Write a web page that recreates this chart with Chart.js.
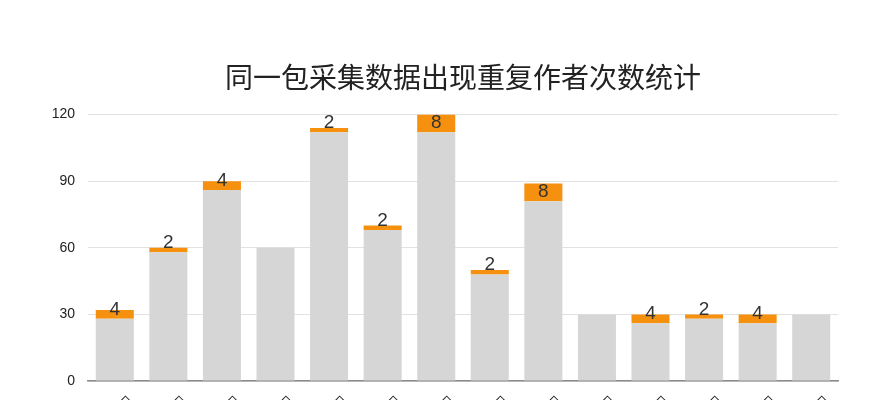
<!DOCTYPE html>
<html>
<head>
<meta charset="utf-8">
<script src="https://cdn.jsdelivr.net/npm/chart.js@4"></script>
<style>
  html, body { margin: 0; padding: 0; background: #fff; overflow: hidden; }
  #wrap { width: 889px; height: 400px; }
</style>
</head>
<body>
<div id="wrap"><canvas id="chart"></canvas></div>
<script>
// Category labels are cut off at the bottom edge in the reference.
const categories = ['◇', '◇', '◇', '◇', '◇', '◇', '◇', '◇', '◇', '◇', '◇', '◇', '◇', '◇'];
// Unique part of each bar (grey) and repeated authors (orange).
const baseCounts = [28, 58, 86, 60, 112, 68, 112, 48, 81, 30, 26, 28, 26, 30];
const repeatCounts = [4, 2, 4, 0, 2, 2, 8, 2, 8, 0, 4, 2, 4, 0];
const yTicks = [0, 30, 60, 90, 120];

// Draws the repeat count just above the base of each orange segment.
const repeatLabels = {
  id: 'repeatLabels',
  afterDatasetsDraw(chart) {
    const ctx = chart.ctx;
    const meta = chart.getDatasetMeta(1);
    const yScale = chart.scales.y;
    ctx.save();
    ctx.font = '19px "Liberation Sans", Arial, sans-serif';
    ctx.fillStyle = '#333';
    ctx.textAlign = 'center';
    ctx.textBaseline = 'alphabetic';
    meta.data.forEach((bar, i) => {
      if (!repeatCounts[i]) return;
      const y = yScale.getPixelForValue(baseCounts[i]) - 4;
      ctx.fillText(String(repeatCounts[i]), bar.x, y);
    });
    ctx.restore();
  }
};

new Chart(document.getElementById('chart'), {
  type: 'bar',
  data: {
    labels: categories,
    datasets: [
      {
        label: 'base',
        data: baseCounts,
        backgroundColor: '#d6d6d6',
        barPercentage: 0.71,
        categoryPercentage: 1
      },
      {
        label: 'repeat',
        data: repeatCounts,
        backgroundColor: '#f6910f',
        barPercentage: 0.71,
        categoryPercentage: 1
      }
    ]
  },
  options: {
    responsive: true,
    maintainAspectRatio: false,
    animation: false,
    layout: { padding: { left: 48, right: 51, top: 0, bottom: 0 } },
    plugins: {
      legend: { display: false },
      tooltip: { enabled: false },
      title: {
        display: true,
        text: '同一包采集数据出现重复作者次数统计',
        color: '#222',
        fullSize: false,
        font: { family: '"Noto Sans CJK SC", sans-serif', size: 28, weight: 'normal', lineHeight: 1.2 },
        padding: { top: 61, bottom: 20 }
      }
    },
    scales: {
      x: {
        stacked: true,
        grid: { display: false, drawTicks: false },
        border: { display: true, color: '#8a8a8a', width: 1.5 },
        ticks: {
          color: '#222',
          padding: 11,
          align: 'start',
          maxRotation: 0,
          font: { family: '"DejaVu Sans", sans-serif', size: 18 },
          callback: (v, i) => '\u2009' + categories[i]
        },
        afterFit: (axis) => { axis.height = 19; }
      },
      y: {
        stacked: true,
        min: 0,
        max: 120,
        afterBuildTicks: (axis) => { axis.ticks = yTicks.map(v => ({ value: v })); },
        grid: { color: '#e2e2e2', drawTicks: false },
        border: { display: false },
        ticks: {
          color: '#222',
          padding: 13,
          font: { family: '"Liberation Sans", Arial, sans-serif', size: 14 }
        },
        afterFit: (axis) => {
          axis.width = 40;
          axis.paddingTop = 0;
          axis.paddingBottom = 0;
        }
      }
    }
  },
  plugins: [repeatLabels]
});
</script>
</body>
</html>
